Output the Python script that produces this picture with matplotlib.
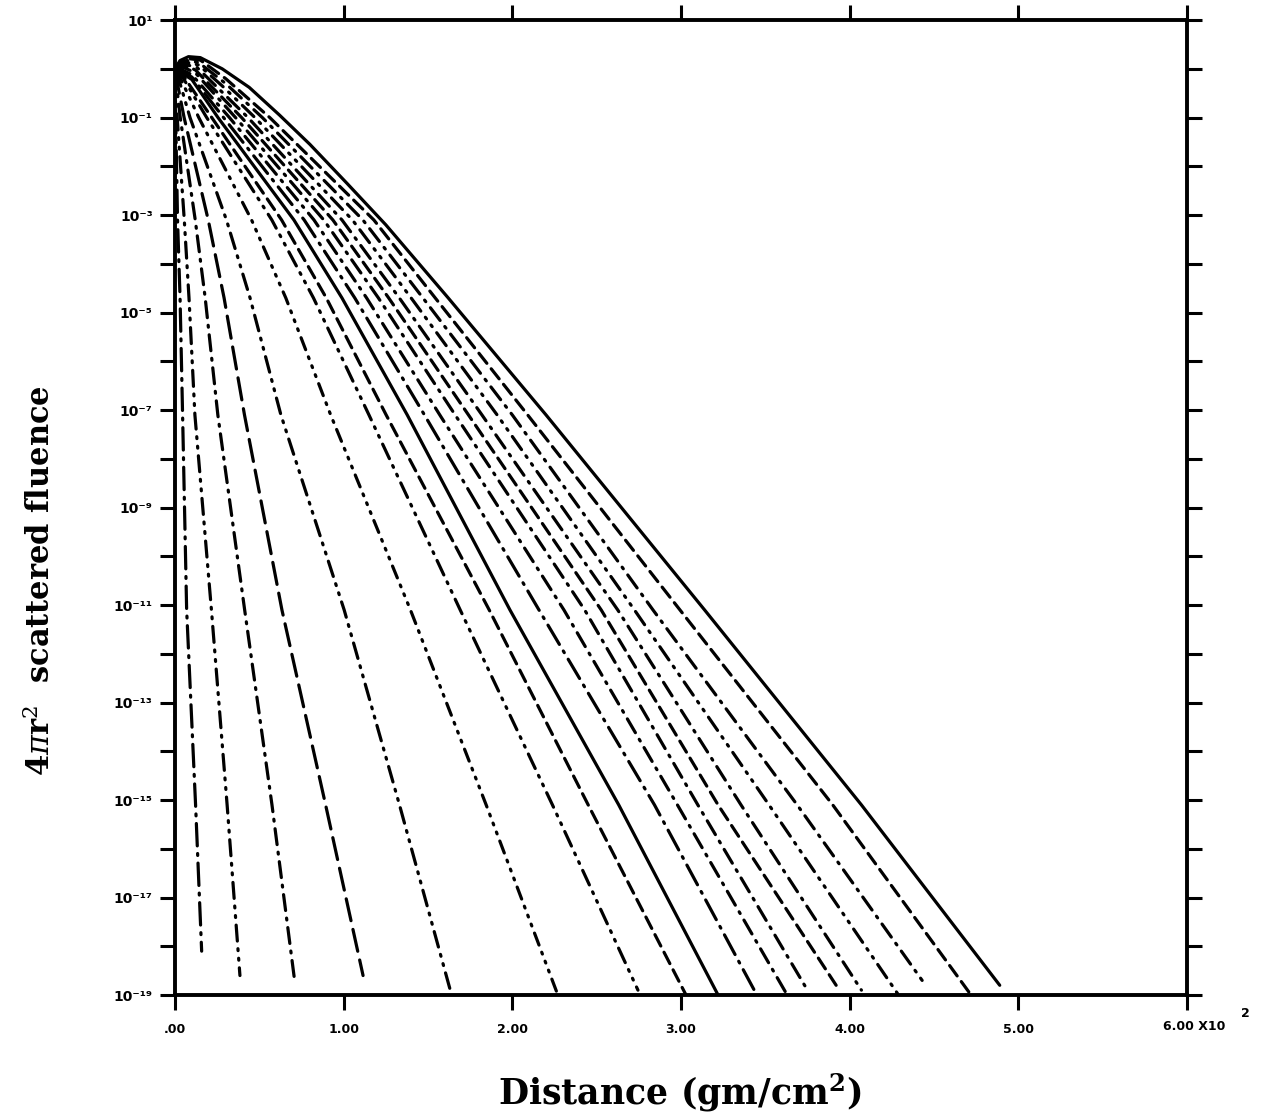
import matplotlib
matplotlib.use("Agg")
import matplotlib.pyplot as plt

plt.rcParams["mathtext.fontset"] = "dejavuserif"

# distance (x10^2 gm/cm^2) and log10 of the scattered fluence for each curve, inner to outer
curve_x = [
    [0, 0.004, 0.015, 0.03, 0.045, 0.069, 0.122, 0.158],
    [0, 0.013, 0.055, 0.083, 0.118, 0.216, 0.309, 0.385],
    [0, 0.031, 0.120, 0.179, 0.254, 0.413, 0.575, 0.711],
    [0, 0.054, 0.197, 0.291, 0.412, 0.634, 0.893, 1.115],
    [0, 0.03, 0.089, 0.305, 0.445, 0.628, 1.003, 1.331, 1.64],
    [0, 0.04, 0.141, 0.454, 0.657, 0.923, 1.396, 1.845, 2.27],
    [0, 0.05, 0.188, 0.574, 0.821, 1.150, 1.691, 2.238, 2.745],
    [0, 0.05, 0.218, 0.632, 0.897, 1.252, 1.863, 2.450, 3.03],
    [0, 0.03, 0.10, 0.255, 0.705, 0.990, 1.377, 1.986, 2.631, 3.22],
    [0, 0.03, 0.10, 0.288, 0.766, 1.066, 1.479, 2.158, 2.843, 3.45],
    [0, 0.03, 0.10, 0.323, 0.824, 1.136, 1.570, 2.306, 2.979, 3.63],
    [0, 0.03, 0.05, 0.12, 0.359, 0.882, 1.206, 1.661, 2.429, 3.100, 3.75],
    [0, 0.03, 0.06, 0.12, 0.395, 0.936, 1.267, 1.740, 2.527, 3.220, 3.92],
    [0, 0.03, 0.06, 0.13, 0.433, 0.990, 1.330, 1.820, 2.625, 3.356, 4.07],
    [0, 0.03, 0.07, 0.14, 0.28, 0.474, 1.052, 1.400, 1.910, 2.724, 3.522, 4.29],
    [0, 0.03, 0.07, 0.14, 0.30, 0.518, 1.114, 1.470, 2.000, 2.834, 3.689, 4.43],
    [0, 0.03, 0.08, 0.15, 0.30, 0.562, 1.179, 1.543, 2.091, 2.994, 3.900, 4.72],
    [0, 0.03, 0.08, 0.15, 0.28, 0.44, 0.62, 0.80, 1.02, 1.25, 1.62, 2.20, 3.14, 4.07, 4.89],
]
curve_exp = [
    [-0.05, -1.0, -3.1, -4.7, -7.1, -11.1, -15.1, -18.1],
    [-0.05, -1.0, -3.1, -4.7, -7.1, -11.1, -15.1, -18.6],
    [-0.05, -1.0, -3.1, -4.7, -7.1, -11.1, -15.1, -18.75],
    [-0.05, -1.0, -3.1, -4.7, -7.1, -11.1, -15.1, -18.6],
    [-0.05, -0.3, -1.0, -3.1, -4.7, -7.1, -11.1, -15.1, -19.0],
    [-0.05, -0.25, -1.0, -3.1, -4.7, -7.1, -11.1, -15.1, -19.0],
    [-0.05, -0.2, -1.0, -3.1, -4.7, -7.1, -11.1, -15.1, -18.9],
    [-0.05, -0.15, -1.0, -3.1, -4.7, -7.1, -11.1, -15.1, -19.0],
    [-0.03, -0.06, -0.22, -1.0, -3.1, -4.7, -7.1, -11.1, -15.1, -19.0],
    [-0.02, -0.03, -0.17, -1.0, -3.1, -4.7, -7.1, -11.1, -15.1, -19.0],
    [0.0, 0.0, -0.12, -1.0, -3.1, -4.7, -7.1, -11.1, -15.1, -19.0],
    [0.0, 0.03, 0.03, -0.08, -1.0, -3.1, -4.7, -7.1, -11.1, -15.1, -18.9],
    [0.0, 0.05, 0.06, -0.02, -1.0, -3.1, -4.7, -7.1, -11.1, -15.1, -18.8],
    [0.0, 0.07, 0.09, 0.03, -1.0, -3.1, -4.7, -7.1, -11.1, -15.1, -18.9],
    [0.0, 0.10, 0.13, 0.08, -0.35, -1.0, -3.1, -4.7, -7.1, -11.1, -15.1, -19.0],
    [0.0, 0.12, 0.17, 0.13, -0.30, -1.0, -3.1, -4.7, -7.1, -11.1, -15.1, -18.7],
    [0.0, 0.15, 0.21, 0.18, -0.20, -1.0, -3.1, -4.7, -7.1, -11.1, -15.1, -19.0],
    [0.0, 0.17, 0.25, 0.23, 0.0, -0.38, -0.95, -1.55, -2.35, -3.2, -4.7, -7.1, -11.1, -15.1, -18.8],
]

solid = "-"
dashed = (0, (4, 2.2))
long_dash = (0, (7, 2.8))
dash_dot = (0, (5, 2.4, 0.6, 2.4))
long_dash_dot = (0, (7, 2.4, 0.6, 2.4))
dash_dot_dot = (0, (5, 2.4, 0.6, 2.4, 0.6, 2.4))
dash_3dot = (0, (4, 2.4, 0.6, 2.4, 0.6, 2.4, 0.6, 2.4))
curve_styles = [long_dash_dot, dash_dot_dot, dash_dot, long_dash, dash_dot_dot, dash_3dot,
                dash_dot_dot, dashed, solid, long_dash_dot, dash_dot, dash_dot, dashed,
                dash_dot, dash_dot_dot, dash_dot, dashed, solid]

x_ticks = [0, 1, 2, 3, 4, 5, 6]
x_tick_labels = [".00", "1.00", "2.00", "3.00", "4.00", "5.00", ""]
y_exps = list(range(-19, 2))
sup = str.maketrans("-0123456789", "⁻⁰¹²³⁴⁵⁶⁷⁸⁹")

fig = plt.figure(figsize=(12.7, 11.16), dpi=100)
ax = fig.add_axes([0.1378, 0.1084, 0.7968, 0.8736])

for xs, es, ls in zip(curve_x, curve_exp, curve_styles):
    ax.plot(xs, [10.0 ** e for e in es], color="black", lw=2.3, linestyle=ls,
            solid_capstyle="round", dash_capstyle="round", solid_joinstyle="round")

ax.set_yscale("log")
ax.set_xlim(0, 6)
ax.set_ylim(1e-19, 1e1)

ax.set_xticks(x_ticks)
ax.set_xticklabels(x_tick_labels, fontsize=9, fontweight="bold")
ax.set_yticks([10.0 ** k for k in y_exps])
ax.set_yticklabels(["10" + str(k).translate(sup) if k % 2 else "" for k in y_exps],
                   fontsize=10, fontweight="bold")
ax.minorticks_off()
ax.tick_params(axis="both", which="major", direction="out", length=11, width=2.2,
               top=True, right=True, pad=5)
ax.tick_params(axis="x", pad=9)
for sp in ax.spines.values():
    sp.set_linewidth(2.8)

ax.text(5.86, -0.026, "6.00 X10", transform=ax.get_xaxis_transform(),
        ha="left", va="top", fontsize=9, fontweight="bold")
ax.text(6.32, -0.012, "2", transform=ax.get_xaxis_transform(),
        ha="left", va="top", fontsize=9, fontweight="bold")

fig.text(0.032, 0.48, r"4$\pi$r$^{2}$  scattered fluence", rotation=90,
         ha="center", va="center", fontsize=22, fontweight="bold", family="DejaVu Serif")
fig.text(0.535, 0.021, r"Distance (gm/cm$^{\mathbf{2}}$)", ha="center", va="center",
         fontsize=25, fontweight="bold", family="DejaVu Serif")

fig.savefig("out.png", dpi=100)
plt.close(fig)
